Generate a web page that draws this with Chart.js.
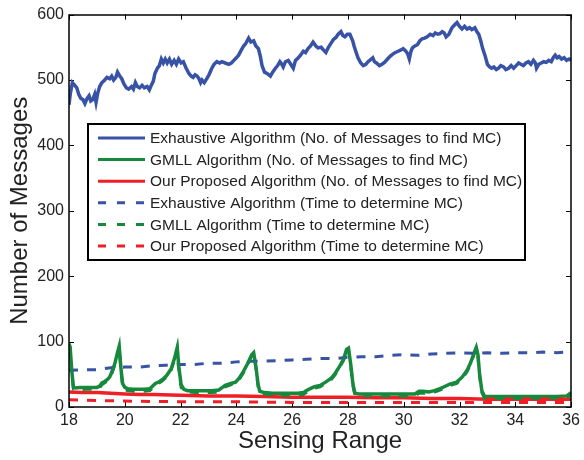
<!DOCTYPE html>
<html>
<head>
<meta charset="utf-8">
<script src="https://cdn.jsdelivr.net/npm/chart.js@4"></script>
<style>
  html, body { margin: 0; padding: 0; background: #fff; }
  #wrap { width: 584px; height: 460px; position: relative; }
</style>
</head>
<body>
<div id="wrap"><canvas id="chart" width="584" height="460"></canvas></div>
<script>
// ====== data ======
const X_TICKS = [18, 20, 22, 24, 26, 28, 30, 32, 34, 36];
const Y_TICKS = [0, 100, 200, 300, 400, 500, 600];

// Exhaustive Algorithm (No. of Messages to find MC)
const exhMsgX = [18.00, 18.05, 18.12, 18.20, 18.28, 18.35, 18.42, 18.50, 18.57, 18.65, 18.72, 18.78, 18.85, 18.92, 18.97,
  19.03, 19.10, 19.18, 19.28, 19.36, 19.46, 19.53, 19.60, 19.68, 19.74, 19.82, 19.89, 19.97,
  20.06, 20.14, 20.24, 20.31, 20.38, 20.45, 20.53, 20.62, 20.70, 20.80, 20.88, 20.95,
  21.02, 21.08, 21.17, 21.24, 21.31, 21.38, 21.45, 21.52, 21.60, 21.68, 21.77, 21.85, 21.93,
  22.02, 22.10, 22.20, 22.30, 22.38, 22.45, 22.52, 22.59, 22.66, 22.72, 22.77, 22.85, 22.94,
  23.02, 23.12, 23.20, 23.30, 23.40, 23.48, 23.60, 23.73, 23.82, 23.91,
  24.00, 24.08, 24.18, 24.26, 24.34, 24.44, 24.52, 24.62, 24.70, 24.79, 24.86, 24.92,
  25.01, 25.10, 25.22, 25.30, 25.40, 25.48, 25.56, 25.63, 25.68, 25.76, 25.86, 25.95,
  26.04, 26.12, 26.22, 26.30, 26.40, 26.48, 26.57, 26.66, 26.75, 26.85, 26.93,
  27.04, 27.12, 27.21, 27.30, 27.39, 27.48, 27.57, 27.65, 27.75, 27.82, 27.89, 27.98,
  28.07, 28.17, 28.22, 28.28, 28.36, 28.46, 28.55, 28.64, 28.72, 28.78, 28.89, 28.95,
  29.02, 29.13, 29.22, 29.31, 29.42, 29.53, 29.62, 29.70, 29.80, 29.90, 29.98,
  30.06, 30.14, 30.20, 30.26, 30.31, 30.40, 30.49, 30.58, 30.66, 30.75, 30.84, 30.95,
  31.05, 31.13, 31.22, 31.30, 31.38, 31.45, 31.52, 31.62, 31.73, 31.82, 31.91,
  32.00, 32.09, 32.18, 32.27, 32.36, 32.44, 32.55, 32.62, 32.69, 32.76, 32.83, 32.91,
  33.00, 33.08, 33.15, 33.23, 33.32, 33.40, 33.48, 33.58, 33.66, 33.76, 33.85, 33.94,
  34.03, 34.12, 34.20, 34.29, 34.38, 34.47, 34.56, 34.65, 34.72, 34.76, 34.84, 34.93,
  35.02, 35.11, 35.20, 35.29, 35.36, 35.43, 35.50, 35.57, 35.66, 35.75, 35.84, 35.93, 36.00];
const exhMsgY = [462, 480, 496, 492, 488, 478, 472, 470, 464, 472, 476, 468, 470, 478, 466,
  480, 490, 496, 500, 504, 502, 506, 500, 504, 512, 506, 502, 494,
  488, 486, 490, 486, 496, 490, 488, 492, 488, 490, 485, 492,
  498, 510, 518, 522, 532, 526, 532, 526, 532, 524, 530, 524, 532,
  526, 528, 518, 510, 506, 504, 508, 506, 502, 496, 500, 496, 502,
  508, 518, 524, 528, 526, 528, 526, 524, 526, 530,
  534, 538, 546, 552, 556, 564, 558, 560, 552, 548, 536, 522,
  512, 510, 506, 512, 518, 522, 528, 524, 520, 528, 530, 524,
  518, 530, 534, 538, 544, 542, 548, 552, 558, 552, 549,
  550, 546, 542, 550, 556, 562, 565, 570, 574, 568, 566, 570,
  570, 560, 552, 544, 534, 526, 522, 524, 528, 530, 534, 528,
  526, 522, 524, 527, 532, 537, 540, 542, 544, 546, 548,
  545, 540, 532, 544, 549, 552, 554, 560, 563, 564, 566, 570,
  568, 572, 570, 571, 574, 572, 566, 570, 580, 584, 588,
  582, 578, 582, 578, 580, 577, 580, 574, 570, 560, 548, 538,
  524, 520, 518, 520, 516, 518, 522, 520, 516, 518, 522, 518,
  522, 526, 524, 522, 526, 528, 524, 530, 526, 518, 524, 526,
  528, 527, 530, 528, 534, 538, 534, 536, 532, 534, 530, 532, 530];

// GMLL Algorithm (No. of Messages to find MC)
const gmllMsgX = [18.00, 18.04, 18.10, 18.16, 18.25, 18.40, 18.60, 18.80, 19.00, 19.10, 19.18, 19.28, 19.38, 19.46, 19.55, 19.64, 19.72, 19.80, 19.86, 19.92,
  20.00, 20.10, 20.30, 20.50, 20.70, 20.90, 21.00, 21.10, 21.25, 21.35, 21.50, 21.66, 21.78, 21.88, 21.94,
  22.02, 22.12, 22.25, 22.50, 22.80, 23.10, 23.37, 23.50, 23.60, 23.80, 23.97,
  24.10, 24.25, 24.40, 24.55, 24.62, 24.70, 24.78, 24.84, 25.00, 25.30, 25.60, 25.90,
  26.20, 26.40, 26.50, 26.65, 26.80, 27.00, 27.20, 27.40, 27.55, 27.70, 27.85, 27.95,
  28.02, 28.10, 28.18, 28.25, 28.40, 28.70, 29.00, 29.50, 30.00, 30.40, 30.55, 30.70, 30.90,
  31.10, 31.30, 31.45, 31.65, 31.90, 32.10, 32.27, 32.40, 32.50, 32.60, 32.66, 32.72, 32.80, 32.90,
  33.20, 33.60, 34.00, 34.50, 35.00, 35.50, 35.85, 36.00];
const gmllMsgY = [97, 92, 55, 30, 29, 30, 30, 30, 30, 32, 37, 39, 42, 46, 55, 66, 80, 93, 60, 36,
  30, 28, 27, 27, 27, 28, 32, 36, 39, 42, 48, 58, 74, 91, 60,
  34, 27, 25, 25, 25, 25, 26, 30, 33, 36, 38,
  44, 54, 66, 80, 83, 62, 34, 24, 22, 21, 21, 21,
  21, 22, 25, 28, 31, 33, 38, 44, 52, 62, 74, 88,
  90, 65, 35, 21, 20, 20, 20, 20, 20, 20, 24, 24, 23,
  25, 28, 31, 35, 38, 46, 56, 68, 80, 91, 80, 50, 25, 16,
  16, 16, 16, 16, 16, 16, 17, 22];

// Our Proposed Algorithm (No. of Messages to find MC)
const oursMsgX = [18, 18.5, 19, 19.5, 20, 20.5, 21, 22, 23, 24, 25, 26, 27, 28, 29, 30, 31, 32, 33, 34, 35, 36];
const oursMsgY = [23, 22, 22, 21, 20, 19, 19, 18, 17, 17, 16, 15, 15, 15, 14, 14, 13, 13, 12, 12, 12, 12];

// Exhaustive Algorithm (Time to determine MC)
const exhTimeX = [18, 18.5, 19, 19.5, 20, 20.5, 21, 21.5, 22, 22.5, 23, 23.5, 24, 24.5, 25, 25.5, 26, 26.5, 27,
  27.5, 28, 28.5, 29, 29.5, 30, 30.5, 31, 31.5, 32, 32.5, 33, 33.5, 34, 34.5, 35, 35.5, 36];
const exhTimeY = [56, 57, 57, 60, 61, 61, 63, 64, 65, 65, 67, 67, 69, 70, 70, 71, 72, 73, 74,
  74, 76, 77, 77, 79, 80, 79, 81, 82, 83, 82, 83, 82, 83, 83, 84, 83, 85];

// GMLL Algorithm (Time to determine MC)
const gmllTimeX = [18.00, 18.04, 18.10, 18.16, 18.25, 18.60, 19.00, 19.10, 19.18, 19.28, 19.38, 19.46, 19.55, 19.64, 19.72, 19.80, 19.86, 19.92,
  20.00, 20.30, 20.70, 20.90, 21.00, 21.10, 21.25, 21.35, 21.50, 21.66, 21.78, 21.88, 21.94,
  22.02, 22.12, 22.50, 23.10, 23.37, 23.50, 23.60, 23.80, 23.97,
  24.10, 24.25, 24.40, 24.55, 24.62, 24.70, 24.78, 24.84, 25.30,
  26.20, 26.40, 26.50, 26.65, 26.80, 27.00, 27.20, 27.40, 27.55, 27.70, 27.85, 27.95,
  28.02, 28.10, 28.18, 28.25, 29.00, 30.40, 30.55, 30.90,
  31.10, 31.30, 31.45, 31.65, 31.90, 32.10, 32.27, 32.40, 32.50, 32.60, 32.66, 32.72, 32.80, 32.90,
  34.00, 35.85, 36.00];
const gmllTimeY = [95, 88, 50, 27, 26, 27, 27, 29, 34, 37, 40, 44, 53, 64, 78, 91, 58, 33,
  26, 24, 24, 25, 29, 34, 37, 40, 46, 56, 72, 89, 57,
  30, 24, 22, 22, 23, 27, 31, 34, 36,
  42, 52, 64, 78, 81, 60, 31, 21, 18,
  18, 19, 22, 26, 29, 31, 36, 42, 50, 60, 72, 86,
  88, 62, 32, 18, 17, 17, 21, 21,
  23, 26, 29, 33, 36, 44, 54, 66, 78, 89, 78, 47, 22, 13,
  13, 14, 19];

// Our Proposed Algorithm (Time to determine MC)
const oursTimeX = [18, 19, 20, 22, 24, 26, 28, 30, 32, 34, 36];
const oursTimeY = [11, 10, 9, 8, 8, 7, 7, 7, 7, 7, 7];

const LABELS = [
  "Exhaustive Algorithm (No. of Messages to find MC)",
  "GMLL Algorithm (No. of Messages to find MC)",
  "Our Proposed Algorithm (No. of Messages to find MC)",
  "Exhaustive Algorithm (Time to determine MC)",
  "GMLL Algorithm (Time to determine MC)",
  "Our Proposed Algorithm (Time to determine MC)"
];

const BLUE = "#3852a6";
const GREEN = "#17893d";
const RED = "#ee1f26";
const DASH = [9, 9];
const FONT = "'Liberation Sans', Arial, Helvetica, sans-serif";

function toPoints(xs, ys) {
  return xs.map((x, i) => ({ x: x, y: ys[i] }));
}

function makeDataset(label, xs, ys, color, dashed, order) {
  return {
    label: label,
    data: toPoints(xs, ys),
    borderColor: color,
    backgroundColor: color,
    borderWidth: dashed ? 3 : 3.5,
    borderDash: dashed ? DASH : [],
    pointRadius: 0,
    tension: 0,
    fill: false,
    order: order
  };
}

// ====== box + inner ticks on 4 sides (MATLAB style) ======
const boxPlugin = {
  id: "box",
  beforeDatasetsDraw(chart) {
    const { ctx, chartArea: a, scales } = chart;
    const len = 5;
    ctx.save();
    ctx.strokeStyle = "#000";
    ctx.lineWidth = 1;
    ctx.beginPath();
    X_TICKS.forEach(v => {
      const px = Math.round(scales.x.getPixelForValue(v)) + 0.5;
      ctx.moveTo(px, a.bottom); ctx.lineTo(px, a.bottom - len);
      ctx.moveTo(px, a.top); ctx.lineTo(px, a.top + len);
    });
    Y_TICKS.forEach(v => {
      const py = Math.round(scales.y.getPixelForValue(v)) + 0.5;
      ctx.moveTo(a.left, py); ctx.lineTo(a.left + len, py);
      ctx.moveTo(a.right, py); ctx.lineTo(a.right - len, py);
    });
    ctx.stroke();
    ctx.restore();
  },
  afterDatasetsDraw(chart) {
    const { ctx, chartArea: a } = chart;
    ctx.save();
    ctx.strokeStyle = "#000";
    ctx.lineWidth = 1.5;
    ctx.strokeRect(Math.round(a.left), Math.round(a.top), Math.round(a.right - a.left), Math.round(a.bottom - a.top));
    ctx.restore();
  }
};

// ====== legend box drawn inside the plot ======
const insideLegend = {
  id: "insideLegend",
  afterDraw(chart) {
    const ctx = chart.ctx;
    const bx = 88, by = 124, bw = 437, bh = 136;
    ctx.save();
    ctx.fillStyle = "#fff";
    ctx.fillRect(bx, by, bw, bh);
    ctx.strokeStyle = "#000";
    ctx.lineWidth = 2;
    ctx.strokeRect(bx, by, bw, bh);
    ctx.font = "15.5px " + FONT;
    ctx.textBaseline = "middle";
    ctx.textAlign = "left";
    chart.data.datasets.forEach((ds, i) => {
      const y = by + 14 + i * 21.6;
      ctx.strokeStyle = ds.borderColor;
      ctx.lineWidth = 3;
      ctx.setLineDash(ds.borderDash.length ? [8, 11] : []);
      ctx.beginPath();
      ctx.moveTo(98, y);
      ctx.lineTo(145, y);
      ctx.stroke();
      ctx.setLineDash([]);
      ctx.fillStyle = "#222";
      ctx.fillText(ds.label, 150, y + 1);
    });
    ctx.restore();
  }
};

const datasets = [
  makeDataset(LABELS[0], exhMsgX, exhMsgY, BLUE, false, 6),
  makeDataset(LABELS[1], gmllMsgX, gmllMsgY, GREEN, false, 5),
  makeDataset(LABELS[2], oursMsgX, oursMsgY, RED, false, 4),
  makeDataset(LABELS[3], exhTimeX, exhTimeY, BLUE, true, 3),
  makeDataset(LABELS[4], gmllTimeX, gmllTimeY, GREEN, true, 2),
  makeDataset(LABELS[5], oursTimeX, oursTimeY, RED, true, 1)
];

new Chart(document.getElementById("chart"), {
  type: "line",
  data: { datasets: datasets },
  plugins: [boxPlugin, insideLegend],
  options: {
    responsive: false,
    animation: false,
    layout: { padding: { left: 0, top: 9, right: 9, bottom: 0 } },
    plugins: {
      legend: { display: false },
      tooltip: { enabled: false }
    },
    scales: {
      x: {
        type: "linear",
        min: 18,
        max: 36,
        afterFit: s => { s.height = 53; },
        afterBuildTicks: s => { s.ticks = X_TICKS.map(v => ({ value: v })); },
        grid: { display: false, drawTicks: false },
        border: { display: false },
        ticks: { color: "#222", padding: 4, font: { family: FONT, size: 16 }, maxRotation: 0 },
        title: { display: true, text: "Sensing Range", color: "#222", padding: { top: 0, bottom: 4 }, font: { family: FONT, size: 24 } }
      },
      y: {
        min: 0,
        max: 600,
        afterFit: s => { s.width = 69; },
        afterBuildTicks: s => { s.ticks = Y_TICKS.map(v => ({ value: v })); },
        grid: { display: false, drawTicks: false },
        border: { display: false },
        ticks: { color: "#222", padding: 5, font: { family: FONT, size: 16 } },
        title: { display: true, text: "Number of Messages", color: "#222", padding: { top: 6, bottom: 0 }, font: { family: FONT, size: 24 } }
      }
    }
  }
});
</script>
</body>
</html>
